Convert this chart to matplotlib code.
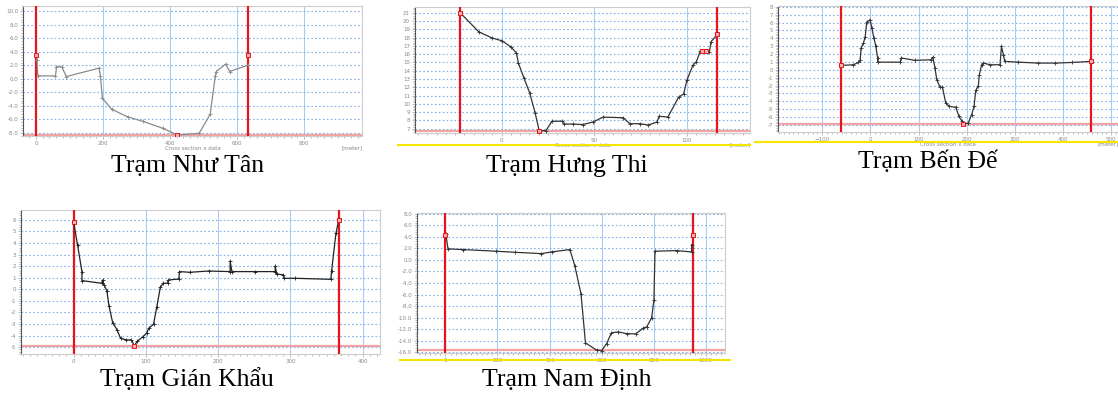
import numpy as np
import matplotlib

matplotlib.use("Agg")
import matplotlib.pyplot as plt
from matplotlib.ticker import MultipleLocator, FormatStrFormatter

W, H = 1118, 394

# --- station cross sections (distance [m], bed elevation [m]) ---
nhu_tan_x = [0, 3, 5, 58, 61, 77, 90, 188, 192, 198, 226, 273, 320, 378, 422,
             487, 520, 535, 538, 566, 578, 634]
nhu_tan_z = [3.55, 2.8, 0.45, 0.45, 1.8, 1.8, 0.35, 1.6, 0.45, -2.85, -4.5,
             -5.6, -6.3, -7.3, -8.3, -8.05, -5.2, 0.45, 1.1, 2.2, 1.1, 2.07]
nhu_tan_mark_x = [0, 634, 422]
nhu_tan_mark_z = [3.55, 3.55, -8.3]

hung_thi_x = [-22.3, -12.3, -5.1, 0.4, 4.9, 8.0, 9.1, 12.1, 15.2, 18.1, 20.3,
              23.9, 27.2, 32.6, 33.9, 38.4, 43.8, 49.3, 54.7, 65.6, 69.2, 74.6,
              79.2, 83.7, 85.1, 89.7, 95.5, 98.2, 100.0, 103.3, 105.1, 107.2,
              112.1, 113.0, 116.3]
hung_thi_z = [21.0, 18.7, 17.96, 17.6, 16.9, 16.16, 14.9, 13.1, 11.3, 8.9, 6.76,
              6.76, 7.9, 7.9, 7.56, 7.56, 7.5, 7.8, 8.4, 8.32, 7.6, 7.6, 7.44,
              7.8, 8.5, 8.4, 10.8, 11.2, 12.9, 14.7, 15.1, 16.4, 16.3, 17.5, 18.4]
hung_thi_mark_x = [-22.3, 116.3, 20.3, 108.0, 110.5]
hung_thi_mark_z = [21.0, 18.4, 6.76, 16.35, 16.35]

ben_de_x = [-61.6, -35.3, -25, -21.5, -19.4, -14.5, -11, -7.6, -0.7, 2.8, 6.9,
            11, 15, 15, 62, 63.7, 92.7, 126, 129.5, 134, 137.7, 144.6, 149.5,
            156.4, 164, 177, 184, 189.6, 193, 203, 210, 215, 218.7, 224, 226,
            231, 234.5, 248, 269, 272, 276, 279, 307, 348, 383, 418, 457]
ben_de_z = [0.55, 0.64, 0.93, 1.2, 2.75, 3.4, 4.2, 6.06, 6.36, 5.3, 4.1, 3.0,
            1.5, 0.97, 0.97, 1.5, 1.2, 1.27, 1.6, 0.2, -1.27, -2.2, -2.2, -4.24,
            -4.66, -4.75, -5.93, -6.48, -6.86, -6.78, -5.72, -4.66, -2.63, -2.03,
            -0.64, 0.64, 0.85, 0.64, 0.64, 2.97, 1.9, 1.06, 0.97, 0.85, 0.85,
            0.93, 1.06]
ben_de_mark_x = [-61.6, 457, 193]
ben_de_mark_z = [0.55, 1.06, -6.86]

gian_khau_x = [0, 5.5, 11.5, 11.5, 39, 40, 42, 46, 49, 54, 60, 65, 73, 80, 84,
               88, 96, 101, 104, 110.6, 115, 120, 124, 130, 131, 145.6, 146.5,
               161, 187, 216.6, 216.6, 219, 251, 279, 279, 281, 290, 291, 307,
               356, 357, 363, 367]
gian_khau_z = [5.8, 3.83, 1.53, 0.75, 0.52, 0.8, 0.37, -0.12, -1.44, -2.88,
               -3.5, -4.24, -4.38, -4.38, -4.9, -4.5, -4.1, -3.8, -3.37, -3.03,
               -1.56, 0.17, 0.52, 0.52, 0.8, 0.89, 1.53, 1.47, 1.58, 1.53, 2.45,
               1.53, 1.53, 1.53, 2.0, 1.33, 1.24, 0.95, 0.95, 0.86, 1.58, 4.84,
               6.0]
gian_khau_mark_x = [0, 367, 84]
gian_khau_mark_z = [5.8, 6.0, -4.9]

nam_dinh_x = [0, 2, 10, 68, 196, 267, 369, 408, 478, 497, 521, 538, 581, 600,
              619, 638, 664, 696, 731, 760, 773, 792, 801, 805, 888, 946, 946]
nam_dinh_z = [4.37, 4.4, 1.9, 1.78, 1.49, 1.31, 1.08, 1.37, 1.78, -1.0, -5.9,
              -14.36, -15.6, -15.7, -14.5, -12.6, -12.46, -12.75, -12.8, -11.8,
              -11.6, -10.04, -7.0, 1.49, 1.6, 1.37, 2.64]
nam_dinh_mark_x = [0, 950]
nam_dinh_mark_z = [4.37, 4.37]

# (name, x, z, marks x, marks z, bank lines, water line, xlim, ylim,
#  x step, y step, y fmt, box px [x0, y0, x1, y1], caption centre px,
#  line colour, show x label)
stations = [
    ("Trạm Như Tân", nhu_tan_x, nhu_tan_z, nhu_tan_mark_x, nhu_tan_mark_z,
     (0, 634), -8.3, (-39, 973), (-8.45, 10.8), 200, 2, "%.1f",
     (23, 6, 362, 136), (188, 166), "#8a8a8a", True),
    ("Trạm Hưng Thi", hung_thi_x, hung_thi_z, hung_thi_mark_x, hung_thi_mark_z,
     (-22.6, 116.3), 6.7, (-46.7, 134), (6.48, 21.7), 50, 1, "%d",
     (415, 7, 750, 133), (567, 166), "#333333", True),
    ("Trạm Bến Đế", ben_de_x, ben_de_z, ben_de_mark_x, ben_de_mark_z,
     (-61.6, 457.4), -6.86, (-192, 514), (-7.9, 8.1), 100, 1, "%d",
     (778, 6, 1118, 132), (928, 162), "#333333", True),
    ("Trạm Gián Khẩu", gian_khau_x, gian_khau_z, gian_khau_mark_x,
     gian_khau_mark_z, (0, 367), -4.9, (-72.8, 424), (-5.6, 6.86), 100, 1,
     "%d", (21, 210, 380, 354), (187, 380), "#222222", False),
    ("Trạm Nam Định", nam_dinh_x, nam_dinh_z, nam_dinh_mark_x, nam_dinh_mark_z,
     (0, 950), -15.6, (-109, 1074), (-16.1, 8.1), 200, 2, "%.1f",
     (417, 213, 725, 353), (567, 380), "#333333", False),
]

# yellow underline strokes under some panels: x0, x1, y (px)
yellow_lines = [(398, 750, 145), (755, 1118, 142), (400, 730, 360)]

fig = plt.figure(figsize=(W / 100, H / 100), dpi=100)
fig.patch.set_facecolor("white")

for (name, xs, zs, mx, mz, banks, water, xlim, ylim, xstep, ystep, yfmt,
     box, cap, lc, show_xl) in stations:
    x0, y0, x1, y1 = box
    ax = fig.add_axes([x0 / W, (H - y1) / H, (x1 - x0) / W, (y1 - y0) / H])
    ax.set_xlim(*xlim)
    ax.set_ylim(*ylim)
    ax.xaxis.set_major_locator(MultipleLocator(xstep))
    ax.xaxis.set_minor_locator(MultipleLocator(xstep / 10))
    ax.yaxis.set_major_locator(MultipleLocator(ystep))
    ax.yaxis.set_minor_locator(MultipleLocator(ystep / 5))
    ax.yaxis.set_major_formatter(FormatStrFormatter(yfmt))
    ax.grid(True, axis="x", color="#a9cdf2", lw=0.8, ls="-")
    ax.grid(True, axis="y", color="#7fb0ea", lw=0.8, ls=(0, (1.5, 2)))
    ax.set_axisbelow(True)
    ax.tick_params(axis="both", which="both", labelsize=4, colors="#888888",
                   length=2, width=0.4, pad=1.5, direction="out")
    ax.tick_params(axis="both", which="minor", length=1.2)
    for s in ax.spines.values():
        s.set_color("#cccccc")
        s.set_linewidth(0.8)
    ax.spines["left"].set_color("#555555")

    ax.axhline(water, color="#f3a3a3", lw=1.6, zorder=2)
    for b in banks:
        ax.axvline(b, color="#e8141a", lw=1.6, zorder=3)
    ax.plot(xs, zs, color=lc, lw=0.9, marker="+", ms=3, mew=0.6, zorder=4)
    ax.plot(mx, mz, ls="none", marker="s", ms=3.5, mfc="#f6b0b0",
            mec="#e8141a", mew=0.7, zorder=5)
    if show_xl:
        ax.set_xlabel("Cross section x data", fontsize=4, color="#888888",
                      labelpad=0)
        ax.text(1.0, -0.07, "[meter]", transform=ax.transAxes, fontsize=4,
                color="#888888", ha="right", va="top")

    fig.text(cap[0] / W, 1 - cap[1] / H, name, ha="center", va="center",
             fontsize=18.5, family=["Liberation Serif", "DejaVu Serif"])

for xa, xb, yy in yellow_lines:
    fig.add_artist(plt.Line2D([xa / W, xb / W], [1 - yy / H, 1 - yy / H],
                              color="#f5e600", lw=1.5, transform=fig.transFigure))

fig.savefig("out.png", dpi=100, facecolor="white")
